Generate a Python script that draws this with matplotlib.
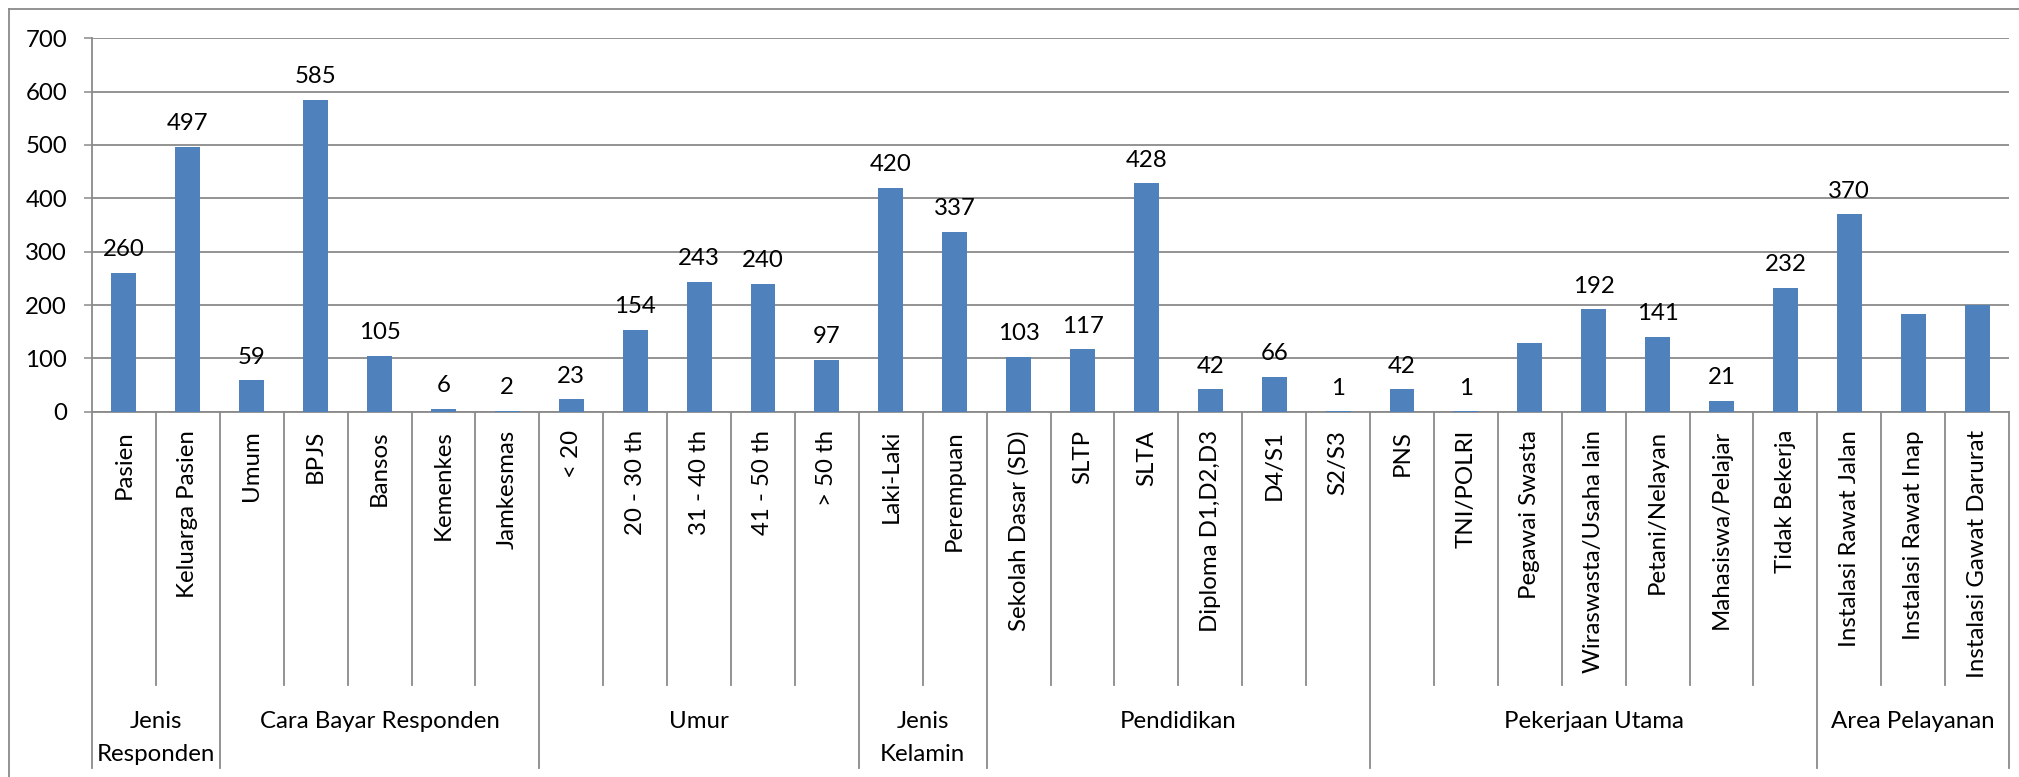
"""Excel-style grouped category bar chart of respondent characteristics."""

import matplotlib
matplotlib.use("Agg")
import matplotlib.pyplot as plt
from matplotlib.lines import Line2D

plt.rcParams["font.family"] = ["Lato", "DejaVu Sans"]

categories = [
    "Pasien", "Keluarga Pasien",
    "Umum", "BPJS", "Bansos", "Kemenkes", "Jamkesmas",
    "< 20", "20 - 30 th", "31 - 40 th", "41 - 50 th", "> 50 th",
    "Laki-Laki", "Perempuan",
    "Sekolah Dasar (SD)", "SLTP", "SLTA", "Diploma D1,D2,D3", "D4/S1", "S2/S3",
    "PNS", "TNI/POLRI", "Pegawai Swasta", "Wiraswasta/Usaha lain",
    "Petani/Nelayan", "Mahasiswa/Pelajar", "Tidak Bekerja",
    "Instalasi Rawat Jalan", "Instalasi Rawat Inap", "Instalasi Gawat Darurat",
]
values = [
    260, 497,
    59, 585, 105, 6, 2,
    23, 154, 243, 240, 97,
    420, 337,
    103, 117, 428, 42, 66, 1,
    42, 1, 128, 192, 141, 21, 232,
    370, 184, 200,
]
# labels shown in the source (None = no data label printed)
data_labels = [
    260, 497,
    59, 585, 105, 6, 2,
    23, 154, 243, 240, 97,
    420, 337,
    103, 117, 428, 42, 66, 1,
    42, 1, None, 192, 141, 21, 232,
    370, None, None,
]
groups = ["Jenis\nResponden", "Cara Bayar Responden", "Umur", "Jenis\nKelamin",
          "Pendidikan", "Pekerjaan Utama", "Area Pelayanan"]
group_sizes = [2, 5, 5, 2, 6, 7, 3]

BAR_COLOR = "#4F81BD"
LINE_COLOR = "#8A8A8A"
FONT_SIZE = 17.3

fig = plt.figure(figsize=(20.19, 7.77), dpi=100)
ax = fig.add_axes([0.04557, 0.4701, 0.9495, 0.4806])

x = list(range(len(categories)))
ax.bar(x, values, width=0.39, color=BAR_COLOR, zorder=3)

for xi, val, lab in zip(x, values, data_labels):
    if lab is None:
        continue
    ax.annotate(str(lab), xy=(xi, val), xytext=(0, 12), textcoords="offset points",
                ha="center", va="baseline", fontsize=FONT_SIZE, color="black")

ax.set_xlim(-0.5, len(categories) - 0.5)
ax.set_ylim(0, 700)
ax.set_yticks(range(0, 701, 100))
ax.yaxis.grid(True, color=LINE_COLOR, linewidth=1.3, zorder=0)
ax.set_axisbelow(True)
ax.tick_params(axis="y", length=6, width=1.1, color=LINE_COLOR, pad=12,
               labelsize=FONT_SIZE)
ax.set_xticks([])
for side in ("top", "right"):
    ax.spines[side].set_visible(False)
for side in ("left", "bottom"):
    ax.spines[side].set_color(LINE_COLOR)
    ax.spines[side].set_linewidth(1.3)

# rotated category labels under each bar
for xi, name in zip(x, categories):
    ax.annotate(name, xy=(xi, 0), xytext=(0, -13.2), textcoords="offset points",
                rotation=90, ha="center", va="top", fontsize=FONT_SIZE)

# separators: short between categories, long at group edges
trans = ax.get_xaxis_transform()
edges = [0]
for size in group_sizes:
    edges.append(edges[-1] + size)
for b in range(len(categories) + 1):
    y_end = -0.955 if b in edges else -0.732
    ax.plot([b - 0.5, b - 0.5], [0, y_end], transform=trans, color=LINE_COLOR,
            linewidth=1.3, clip_on=False)

# group labels, one text per line
baselines = [-0.847, -0.9355]
for name, start, stop in zip(groups, edges[:-1], edges[1:]):
    center = (start + stop - 1) / 2
    for line, yb in zip(name.split("\n"), baselines):
        ax.text(center, yb, line, transform=trans, ha="center", va="baseline",
                fontsize=FONT_SIZE)

# chart area border (only top and left visible in the crop)
fig.add_artist(Line2D([9 / 2019, 1.0], [1 - 9 / 777, 1 - 9 / 777],
                      transform=fig.transFigure, color=LINE_COLOR, linewidth=1.3))
fig.add_artist(Line2D([9 / 2019, 9 / 2019], [0.0, 1 - 9 / 777],
                      transform=fig.transFigure, color=LINE_COLOR, linewidth=1.3))

fig.savefig("out.png", dpi=100)
